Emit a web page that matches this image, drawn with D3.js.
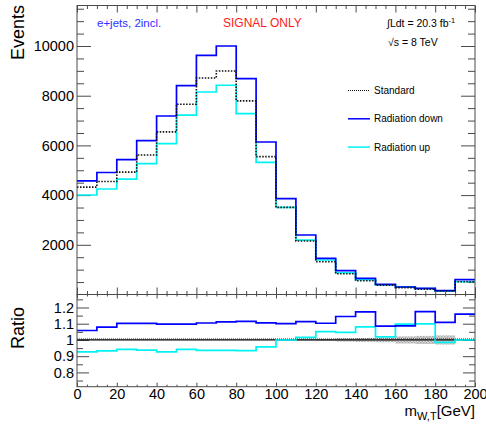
<!DOCTYPE html>
<html>
<head>
<meta charset="utf-8">
<script src="https://cdn.jsdelivr.net/npm/d3@7/dist/d3.min.js"></script>
<style>
  html, body { margin: 0; padding: 0; background: #fff; }
  svg { display: block; font-family: "Liberation Sans", Arial, Helvetica, sans-serif; }
</style>
</head>
<body>
<svg id="chart" width="486" height="428"></svg>
<script>
// Bin edges of the transverse W mass histogram (GeV)
const binEdges = [0, 10, 20, 30, 40, 50, 60, 70, 80, 90, 100, 110, 120, 130, 140, 150, 160, 170, 180, 190, 200];

// Event yields per bin
const standard      = [4320, 4550, 4925, 5615, 6545, 7655, 8715, 8995, 7790, 5550, 3505, 2150, 1320, 837, 555, 378, 278, 212, 138, 514];
const radiationDown = [4571, 4910, 5427, 6190, 7183, 8403, 9625, 10000, 8685, 6137, 3856, 2394, 1456, 958, 651, 410, 302, 249, 153, 596];
const radiationUp   = [4005, 4245, 4640, 5265, 6068, 7215, 8150, 8420, 7276, 5315, 3505, 2185, 1388, 876, 600, 385, 305, 233, 136, 514];

// Relative statistical uncertainty of the standard sample
const standardRelErr = [0.001, 0.001, 0.001, 0.001, 0.001, 0.001, 0.001, 0.001, 0.001, 0.001, 0.002, 0.004, 0.006, 0.01, 0.012, 0.014, 0.022, 0.025, 0.028, 0.0];

// Tick labels
const xTickValues = [0, 20, 40, 60, 80, 100, 120, 140, 160, 180, 200];
const yTickValues = [2000, 4000, 6000, 8000, 10000];
const ratioTickValues = [0.8, 0.9, 1, 1.1, 1.2];

const seriesList = [
  { name: "Standard", values: standard, color: "#111", dash: "1.5,1.5" },
  { name: "Radiation down", values: radiationDown, color: "#0000ff", dash: null },
  { name: "Radiation up", values: radiationUp, color: "#00f2f2", dash: null }
];

const svg = d3.select("#chart");
const X0 = 77, X1 = 475;
const TOP0 = 5.5, TOP1 = 294.5;
const RAT0 = 294.5, RAT1 = 386.7;

const x = d3.scaleLinear().domain([0, 200]).range([X0, X1]);
const y = d3.scaleLinear().domain([0, 11630]).range([TOP1, TOP0]);
const yr = d3.scaleLinear().domain([0.712, 1.28]).range([RAT1, RAT0]);

const frameColor = "#4a4a4a";

// Histogram outline as a step path
function stepPoints(values) {
  const pts = values.map((v, i) => [binEdges[i], v]);
  pts.push([binEdges[binEdges.length - 1], values[values.length - 1]]);
  return pts;
}

function drawAxes(g, yScale, yMajor, yMinor, yMajLen, yMinLen, xMajLen, xMinLen, yFormat, showX, top, bottom) {
  const xMajor = xTickValues;
  const xMinor = d3.range(0, 201, 5).filter(v => v % 20 !== 0);
  // bottom x
  const bx = g.append("g").attr("transform", `translate(0,${bottom})`);
  bx.call(d3.axisBottom(x).tickValues(xMajor).tickSizeInner(-xMajLen).tickSizeOuter(0).tickPadding(showX ? 2 : 0)
    .tickFormat(showX ? d3.format("d") : () => ""));
  bx.append("g").call(d3.axisBottom(x).tickValues(xMinor).tickSizeInner(-xMinLen).tickSizeOuter(0).tickFormat(() => ""));
  // top x
  const tx = g.append("g").attr("transform", `translate(0,${top})`);
  tx.call(d3.axisTop(x).tickValues(xMajor).tickSizeInner(-xMajLen).tickSizeOuter(0).tickFormat(() => ""));
  tx.append("g").call(d3.axisTop(x).tickValues(xMinor).tickSizeInner(-xMinLen).tickSizeOuter(0).tickFormat(() => ""));
  // left y
  const ly = g.append("g").attr("transform", `translate(${X0},0)`);
  ly.call(d3.axisLeft(yScale).tickValues(yMajor).tickSizeInner(-yMajLen).tickSizeOuter(0).tickPadding(3).tickFormat(yFormat));
  ly.append("g").call(d3.axisLeft(yScale).tickValues(yMinor).tickSizeInner(-yMinLen).tickSizeOuter(0).tickFormat(() => ""));
  // right y
  const ry = g.append("g").attr("transform", `translate(${X1},0)`);
  ry.call(d3.axisRight(yScale).tickValues(yMajor).tickSizeInner(-yMajLen).tickSizeOuter(0).tickFormat(() => ""));
  ry.append("g").call(d3.axisRight(yScale).tickValues(yMinor).tickSizeInner(-yMinLen).tickSizeOuter(0).tickFormat(() => ""));

  g.selectAll(".domain").remove();
  g.selectAll(".tick line").attr("stroke", frameColor).attr("stroke-width", 1);
  g.selectAll(".tick text").attr("fill", "#000").style("font-size", "14.5px")
    .style("font-family", '"Liberation Sans", Arial, sans-serif');
}

// ---------- upper panel ----------
const upper = svg.append("g");
svg.append("clipPath").attr("id", "clipTop")
  .append("rect").attr("x", X0).attr("y", TOP0).attr("width", X1 - X0).attr("height", TOP1 - TOP0);

const yMinorTop = d3.range(500, 11630, 500).filter(v => v % 2000 !== 0);
drawAxes(upper, y, yTickValues, yMinorTop, 14, 7, 7, 3.5, d3.format("d"), false, TOP0, TOP1);

const lineGen = d3.line().x(d => x(d[0])).y(d => y(d[1])).curve(d3.curveStepAfter);
const plotTop = upper.append("g").attr("clip-path", "url(#clipTop)");
[seriesList[2], seriesList[1], seriesList[0]].forEach(s => {
  plotTop.append("path")
    .attr("d", lineGen(stepPoints(s.values)))
    .attr("fill", "none")
    .attr("stroke", s.color)
    .attr("stroke-width", s.dash ? 1.6 : 1.7)
    .attr("stroke-dasharray", s.dash);
});

upper.append("rect").attr("x", X0).attr("y", TOP0).attr("width", X1 - X0).attr("height", TOP1 - TOP0)
  .attr("fill", "none").attr("stroke", frameColor).attr("stroke-width", 1);

// Y title
svg.append("text").attr("transform", "translate(24,5) rotate(-90)")
  .attr("text-anchor", "end").style("font-size", "18px").text("Events");

// Labels inside the upper panel
svg.append("text").attr("x", 97).attr("y", 27).attr("fill", "#2f2fff").style("font-size", "11.5px").text("e+jets, 2incl.");
svg.append("text").attr("x", 223).attr("y", 27).attr("fill", "#ff1a1a").style("font-size", "12px").text("SIGNAL ONLY");
const lumi = svg.append("text").attr("x", 387).attr("y", 27).style("font-size", "10.5px");
lumi.append("tspan").text("∫Ldt = 20.3 fb");
lumi.append("tspan").attr("dy", -4).style("font-size", "7.5px").text("-1");
svg.append("text").attr("x", 388).attr("y", 46).style("font-size", "10.5px").text("√s = 8 TeV");

// Legend
const legend = svg.append("g");
seriesList.forEach((s, i) => {
  const ly = 90.5 + i * 28.3;
  legend.append("line").attr("x1", 348).attr("x2", 370).attr("y1", ly).attr("y2", ly)
    .attr("stroke", s.color).attr("stroke-width", s.dash ? 1.2 : 1.5).attr("stroke-dasharray", s.dash ? "1,1" : null);
  legend.append("text").attr("x", 374).attr("y", ly + 3.5).style("font-size", "10px").text(s.name);
});

// ---------- ratio panel ----------
const lower = svg.append("g");
svg.append("clipPath").attr("id", "clipRat")
  .append("rect").attr("x", X0).attr("y", RAT0).attr("width", X1 - X0).attr("height", RAT1 - RAT0);

const ratioMinor = [0.75, 0.85, 0.95, 1.05, 1.15, 1.25];
drawAxes(lower, yr, ratioTickValues, ratioMinor, 12, 6, 4, 2, d => d3.format("")(+d.toFixed(1)), true, RAT0, RAT1);

const plotRat = lower.append("g").attr("clip-path", "url(#clipRat)");

// uncertainty band of the reference sample
const pattern = svg.append("defs").append("pattern").attr("id", "hatch")
  .attr("width", 3).attr("height", 3).attr("patternUnits", "userSpaceOnUse");
pattern.append("rect").attr("width", 3).attr("height", 3).attr("fill", "#d6d6d6");
pattern.append("rect").attr("width", 1.5).attr("height", 1.5).attr("fill", "#9a9a9a");
pattern.append("rect").attr("x", 1.5).attr("y", 1.5).attr("width", 1.5).attr("height", 1.5).attr("fill", "#9a9a9a");

standardRelErr.forEach((e, i) => {
  if (e <= 0) return;
  plotRat.append("rect")
    .attr("x", x(binEdges[i])).attr("width", x(binEdges[i + 1]) - x(binEdges[i]))
    .attr("y", yr(1 + e)).attr("height", yr(1 - e) - yr(1 + e))
    .attr("fill", "url(#hatch)").attr("opacity", 0.85);
});

// reference line at unity
plotRat.append("line").attr("x1", x(0)).attr("x2", x(200)).attr("y1", yr(1)).attr("y2", yr(1))
  .attr("stroke", "#000").attr("stroke-width", 1.3);

const ratioLine = d3.line().x(d => x(d[0])).y(d => yr(d[1])).curve(d3.curveStepAfter);
[seriesList[2], seriesList[1]].forEach(s => {
  const ratios = s.values.map((v, i) => v / standard[i]);
  plotRat.append("path")
    .attr("d", ratioLine(stepPoints(ratios)))
    .attr("fill", "none").attr("stroke", s.color).attr("stroke-width", 1.7);
});
const selfRatio = standard.map((v, i) => v / standard[i]);
plotRat.append("path").attr("d", ratioLine(stepPoints(selfRatio)))
  .attr("fill", "none").attr("stroke", "#333").attr("stroke-width", 1).attr("stroke-dasharray", "1,1")
  .attr("transform", "translate(0,-1)");

lower.append("rect").attr("x", X0).attr("y", RAT0).attr("width", X1 - X0).attr("height", RAT1 - RAT0)
  .attr("fill", "none").attr("stroke", frameColor).attr("stroke-width", 1);

svg.append("text").attr("transform", "translate(24,307) rotate(-90)")
  .attr("text-anchor", "end").style("font-size", "18px").text("Ratio");

// X title
const xt = svg.append("text").attr("x", 475).attr("y", 416).attr("text-anchor", "end").style("font-size", "15px");
xt.append("tspan").text("m");
xt.append("tspan").attr("dy", 3.5).style("font-size", "11px").text("W,T");
xt.append("tspan").attr("dy", -3.5).text("[GeV]");
</script>
</body>
</html>
